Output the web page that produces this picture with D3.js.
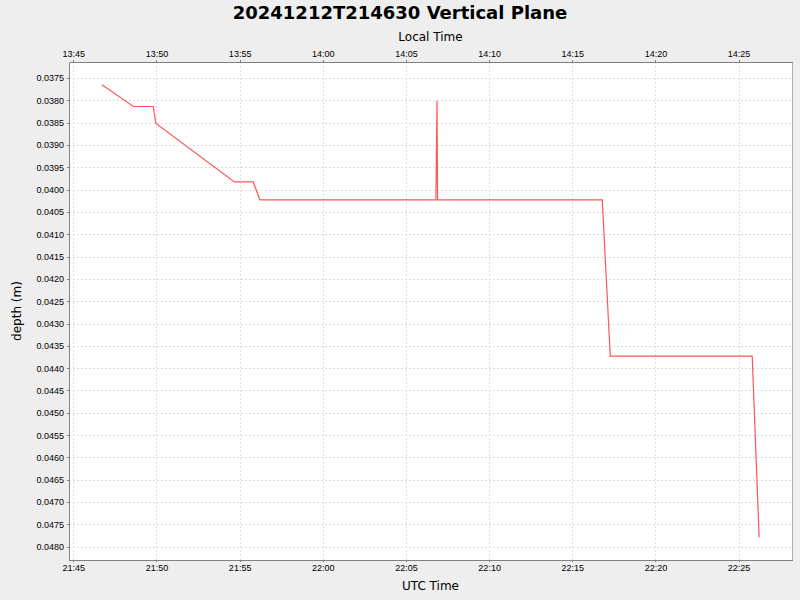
<!DOCTYPE html>
<html lang="en">
<head>
    <meta charset="UTF-8">
    <script src="https://d3js.org/d3.v7.min.js"></script>
    <style>
        body {
            margin: 0;
            padding: 0;
            background-color: #eeeeee;
            font-family: 'DejaVu Sans', sans-serif;
        }

        svg {
            display: block;
        }

        .grid line {
            stroke: #dddddd;
            stroke-dasharray: 2,2;
            shape-rendering: crispEdges;
        }

        .axis path,
        .axis line {
            stroke: #808080;
            shape-rendering: crispEdges;
        }

        .axis text {
            font-size: 9px;
            fill: #000;
        }
    </style>
</head>
<body>
    <svg id="chart" width="800" height="600"></svg>

    <script>
        // Data (UTC times, depth in metres)
        const times = ["21:46:43", "21:48:37", "21:49:48", "21:49:58", "21:54:41", "21:55:49", "21:56:13",
                       "22:06:48", "22:06:52", "22:06:54", "22:16:48", "22:17:17", "22:25:49", "22:26:14"];
        const depths = [0.03765, 0.03814, 0.03814, 0.03852, 0.03983, 0.03983, 0.04023,
                        0.04023, 0.03801, 0.04023, 0.04023, 0.04373, 0.04373, 0.04779];
        const localOffsetHours = -8;

        const parseTime = t => {
            const [h, m, s] = t.split(":").map(Number);
            return new Date(Date.UTC(2024, 11, 12, h, m, s));
        };
        const data = times.map((t, i) => ({ t: parseTime(t), d: depths[i] }));

        const width = 800, height = 600;
        const margin = { top: 62, right: 8, bottom: 40, left: 69 };
        const innerW = width - margin.left - margin.right;
        const innerH = height - margin.top - margin.bottom;

        const svg = d3.select("#chart");
        const g = svg.append("g").attr("transform", `translate(${margin.left},${margin.top})`);

        // 5% margins on both axes, like the original auto-range
        const pad = ([a, b]) => [a - (b - a) * 0.05, b + (b - a) * 0.05];
        const tExt = d3.extent(data, d => +d.t);
        const [t0, t1] = pad(tExt);
        const x = d3.scaleUtc().domain([new Date(t0), new Date(t1)]).range([0, innerW]);
        const y = d3.scaleLinear().domain(pad(d3.extent(data, d => d.d))).range([0, innerH]);

        const shift = localOffsetHours * 3600 * 1000;
        const xLocal = d3.scaleUtc().domain([new Date(t0 + shift), new Date(t1 + shift)]).range([0, innerW]);

        const xTicks = x.ticks(d3.utcMinute.every(5));
        const yTicks = d3.range(0.0375, 0.04801, 0.0005);

        // plot background
        g.append("rect").attr("width", innerW).attr("height", innerH).attr("fill", "#fff");

        // grid
        const grid = g.append("g").attr("class", "grid");
        grid.selectAll(".v").data(xTicks).enter().append("line")
            .attr("x1", d => Math.round(x(d)) + 0.5).attr("x2", d => Math.round(x(d)) + 0.5)
            .attr("y1", 0).attr("y2", innerH);
        grid.selectAll(".h").data(yTicks).enter().append("line")
            .attr("y1", d => Math.round(y(d)) + 0.5).attr("y2", d => Math.round(y(d)) + 0.5)
            .attr("x1", 0).attr("x2", innerW);

        // series line
        g.append("path")
            .datum(data)
            .attr("fill", "none")
            .attr("stroke", "#ff5555")
            .attr("stroke-width", 1.2)
            .attr("d", d3.line().x(d => x(d.t)).y(d => y(d.d)));

        // outline
        g.append("rect").attr("width", innerW).attr("height", innerH)
            .attr("fill", "none").attr("stroke", "#b0b0b0").attr("shape-rendering", "crispEdges");

        // axes
        const fmt = d3.utcFormat("%H:%M");
        g.append("g").attr("class", "axis")
            .attr("transform", `translate(0,${innerH})`)
            .call(d3.axisBottom(x).tickValues(xTicks).tickFormat(fmt).tickSizeOuter(0).tickSizeInner(2).tickPadding(3));

        g.append("g").attr("class", "axis")
            .call(d3.axisTop(xLocal).ticks(d3.utcMinute.every(5)).tickFormat(fmt).tickSizeOuter(0).tickSizeInner(2).tickPadding(3));

        g.append("g").attr("class", "axis")
            .call(d3.axisLeft(y).tickValues(yTicks).tickFormat(d3.format(".4f")).tickSizeOuter(0).tickSizeInner(2).tickPadding(3));

        // titles
        svg.append("text")
            .attr("x", width / 2).attr("y", 19)
            .attr("text-anchor", "middle")
            .style("font-size", "18px").style("font-weight", "bold")
            .text("20241212T214630 Vertical Plane");

        svg.append("text")
            .attr("x", margin.left + innerW / 2).attr("y", 41)
            .attr("text-anchor", "middle")
            .style("font-size", "12px")
            .text("Local Time");

        svg.append("text")
            .attr("x", margin.left + innerW / 2).attr("y", 590)
            .attr("text-anchor", "middle")
            .style("font-size", "12px")
            .text("UTC Time");

        svg.append("text")
            .attr("transform", `translate(21,${margin.top + innerH / 2}) rotate(-90)`)
            .attr("text-anchor", "middle")
            .style("font-size", "12px")
            .text("depth (m)");
    </script>
</body>
</html>
